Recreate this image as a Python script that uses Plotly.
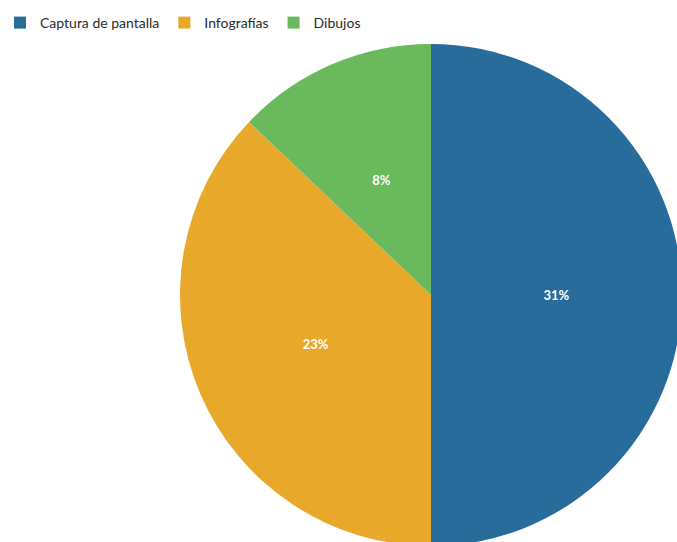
import plotly.graph_objects as go

categories = ["Captura de pantalla", "Infografías", "Dibujos"]
values = [31, 23, 8]
colors = ["#276c9b", "#e8a92b", "#6ab95c"]

# main pie (colours + legend)
fig = go.Figure()
fig.add_trace(
    go.Pie(
        labels=categories,
        values=values,
        sort=False,
        direction="clockwise",
        rotation=0,
        marker=dict(colors=colors, line=dict(width=0)),
        textinfo="none",
        hoverinfo="label+value",
        domain=dict(x=[0, 1], y=[0, 1]),
    )
)
# transparent overlay pie that only carries the labels (places them at half radius)
fig.add_trace(
    go.Pie(
        labels=categories,
        values=values,
        sort=False,
        direction="clockwise",
        rotation=0,
        hole=0.5,
        marker=dict(colors=["rgba(0,0,0,0)"] * len(values), line=dict(width=0)),
        texttemplate="%{value}%",
        textposition="inside",
        insidetextorientation="horizontal",
        insidetextfont=dict(color="white", size=13, family="Lato", weight="bold"),
        hoverinfo="skip",
        showlegend=False,
        domain=dict(x=[1 / 6, 5 / 6], y=[1 / 6, 5 / 6]),
    )
)

fig.update_layout(
    width=682,
    height=546,
    margin=dict(l=180, r=0, t=44, b=0),
    paper_bgcolor="white",
    plot_bgcolor="white",
    font=dict(family="Lato", color="#333333"),
    showlegend=True,
    legend=dict(
        orientation="h",
        xref="container",
        yref="container",
        x=0.0,
        y=1 - 7 / 546,
        xanchor="left",
        yanchor="top",
        font=dict(size=14, family="Lato", color="#2b2b2b"),
        itemwidth=30,
        traceorder="normal",
    ),
)

fig.write_html(
    "out.html",
    post_script="document.documentElement.style.overflow='hidden';document.body.style.overflow='hidden';document.body.style.margin='0';",
)
